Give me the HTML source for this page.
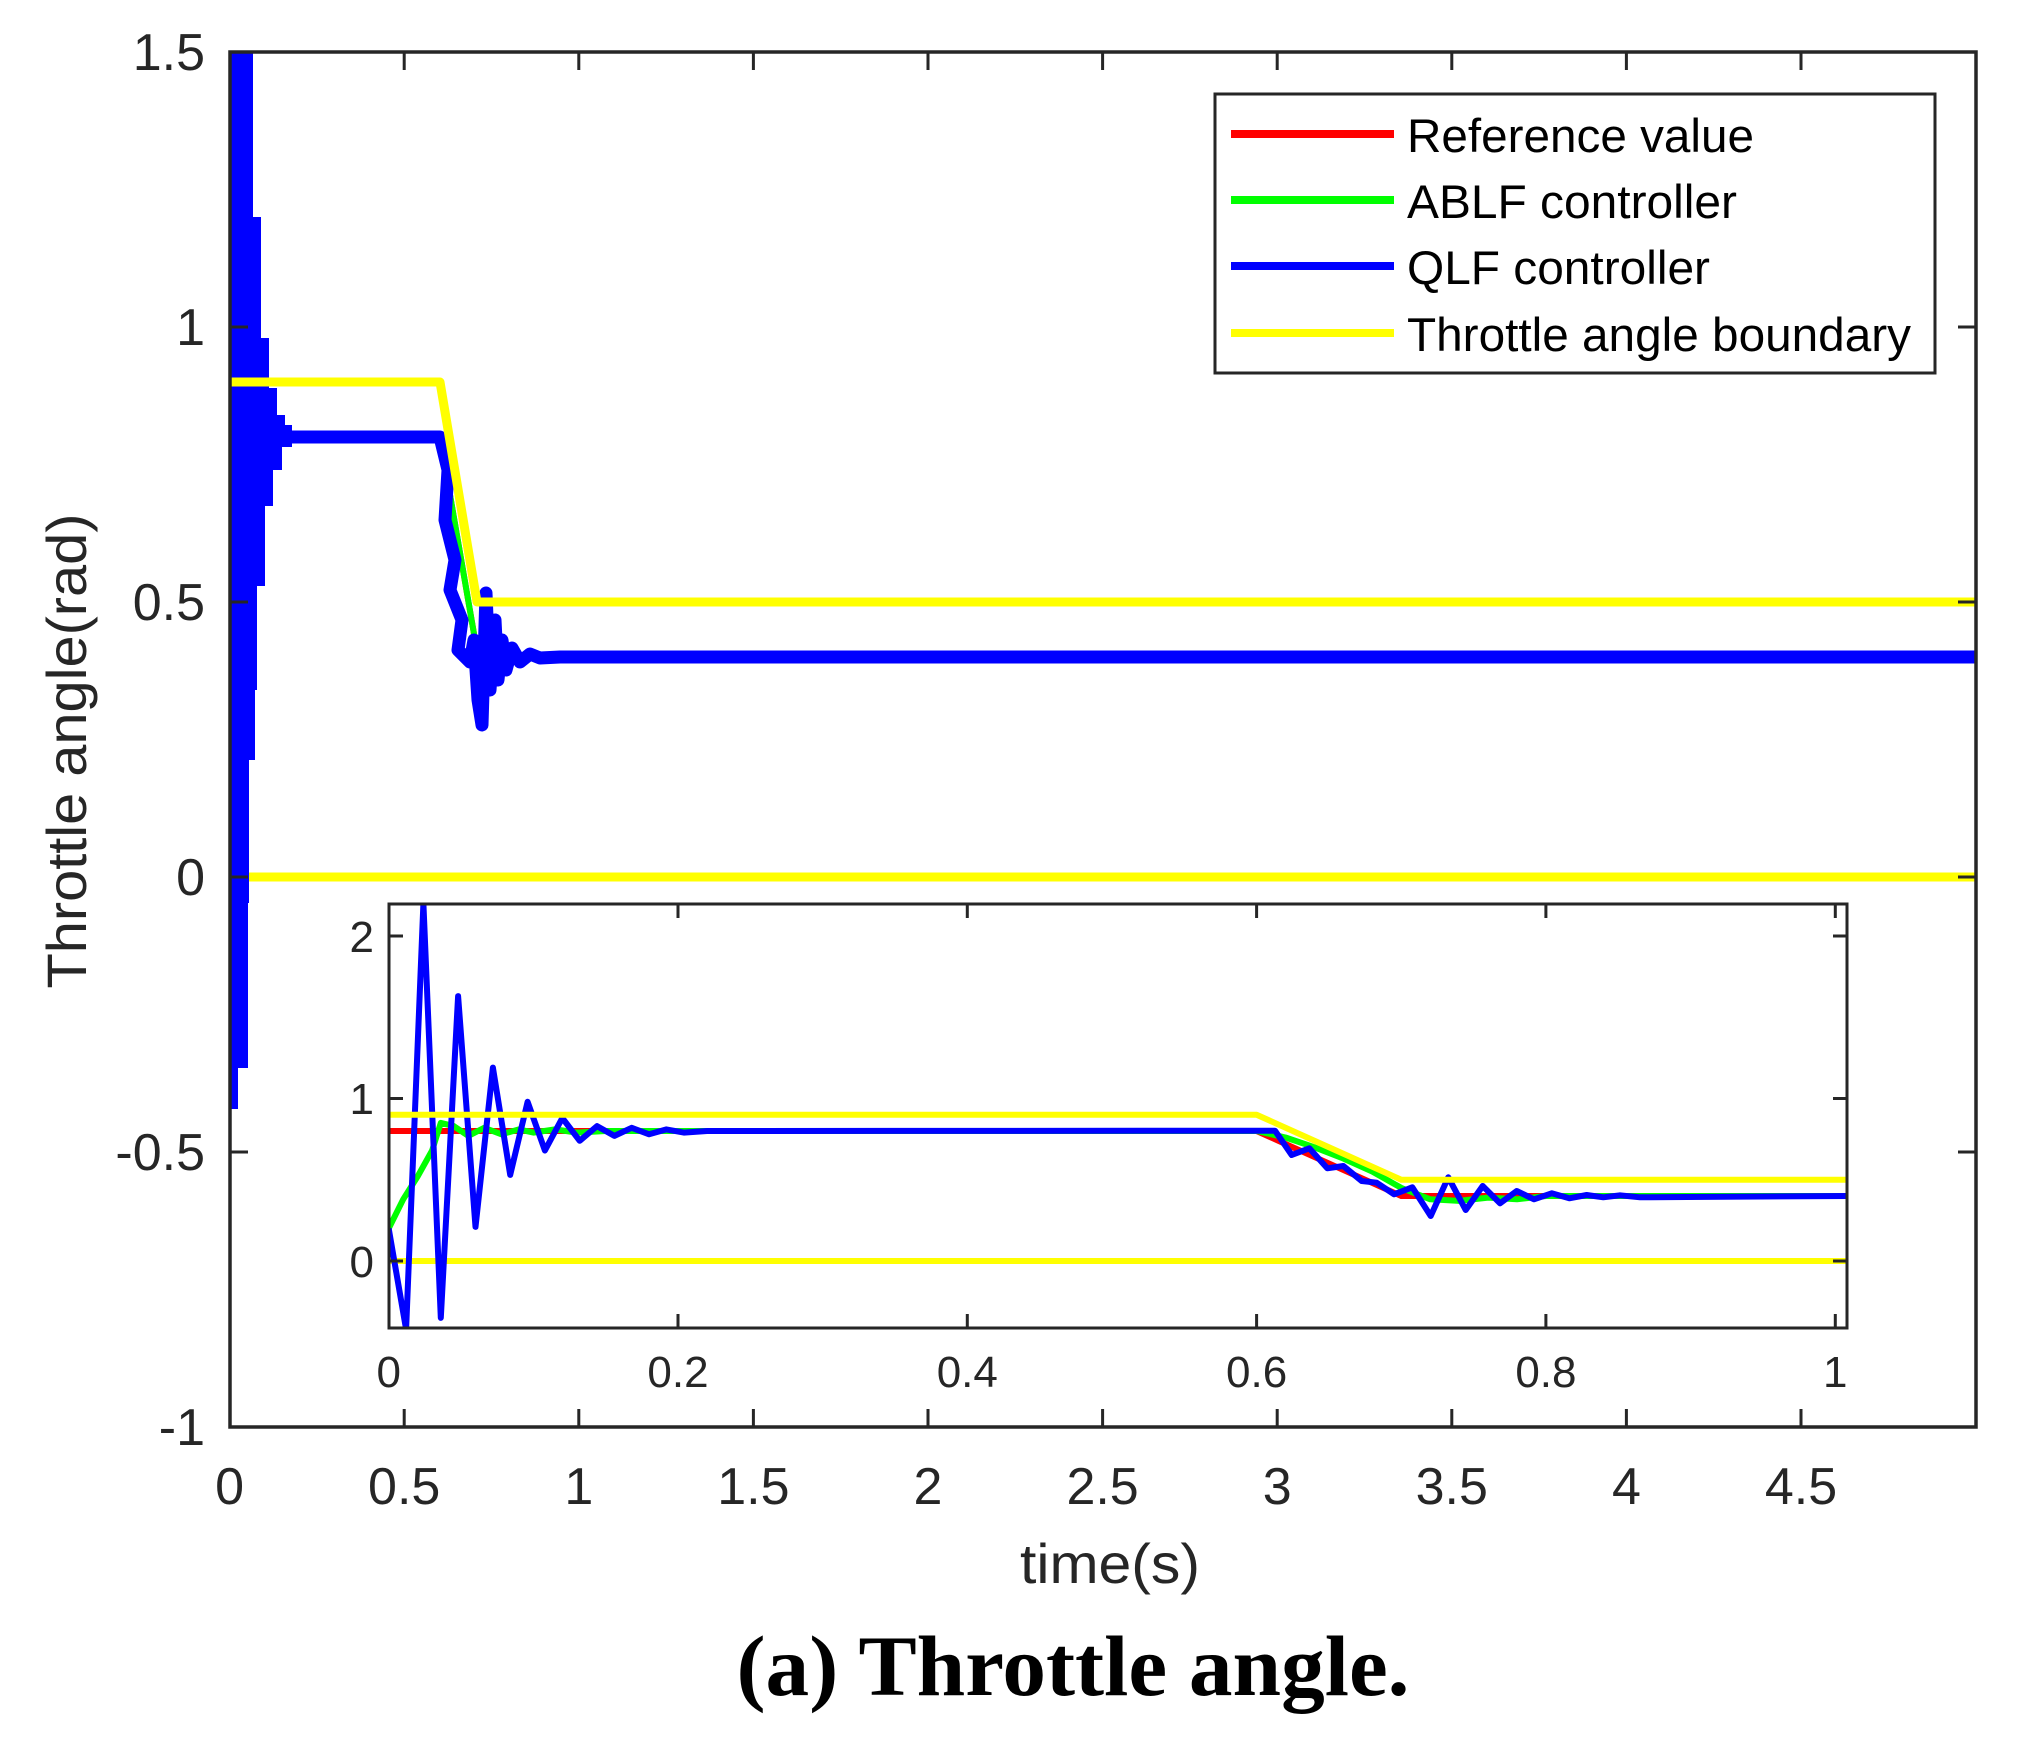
<!DOCTYPE html>
<html><head><meta charset="utf-8"><style>
html,body{margin:0;padding:0;background:#fff;}
svg{display:block;}
text{font-family:"Liberation Sans",Arial,sans-serif;fill:#262626;}
</style></head><body>
<svg width="2023" height="1760" viewBox="0 0 2023 1760" xmlns="http://www.w3.org/2000/svg">
<defs>
<clipPath id="cm"><rect x="230" y="52" width="1746" height="1375"/></clipPath>
<clipPath id="ci"><rect x="389" y="904" width="1458" height="424"/></clipPath>
</defs>
<g clip-path="url(#cm)" fill="none" stroke-linejoin="round">
<polyline points="230,877 1976,877" stroke="#ffff00" stroke-width="9"/>
<polyline points="230,437 440,437 478,657 1976,657" stroke="#ff0000" stroke-width="6"/>
<polyline points="230,767 240,437 440,437 478,657 1976,657" stroke="#00ff00" stroke-width="6"/>
<polygon fill="#0000ff" stroke="none" points="227,53 253,53 253,217 261,217 261,338 269,338 269,388 277,388 277,415 285,415 285,425 292,425 292,447 282,447 282,470 273,470 273,506 265,506 265,586 257,586 257,690 255,690 255,760 249,760 249,903 248,903 248,1068 238,1068 238,1109 227,1109"/>
<polyline points="285,437 440,437 448,470 445,520 455,560 450,590 462,620 458,650 470,662 474,640 478,700 482,725 486,593 490,690 495,620 498,680 502,640 506,670 512,648 520,662 530,654 540,658 560,657 1976,657" stroke="#0000ff" stroke-width="13"/>
<polyline points="230,382 440,382 477,602 1976,602" stroke="#ffff00" stroke-width="9"/>
</g>
<rect x="230" y="52" width="1746" height="1375" fill="none" stroke="#262626" stroke-width="3.5"/>
<g stroke="#262626" stroke-width="3">
<path d="M404.2,1427v-18M578.8,1427v-18M753.4,1427v-18M928,1427v-18M1102.6,1427v-18M1277.2,1427v-18M1451.8,1427v-18M1626.4,1427v-18M1801,1427v-18"/>
<path d="M404.2,52v18M578.8,52v18M753.4,52v18M928,52v18M1102.6,52v18M1277.2,52v18M1451.8,52v18M1626.4,52v18M1801,52v18"/>
<path d="M230,327h18M230,602h18M230,877h18M230,1152h18M1976,327h-18M1976,602h-18M1976,877h-18M1976,1152h-18"/>
</g>
<g font-size="52" text-anchor="end">
<text x="205" y="70">1.5</text>
<text x="205" y="345">1</text>
<text x="205" y="620">0.5</text>
<text x="205" y="895">0</text>
<text x="205" y="1170">-0.5</text>
<text x="205" y="1445">-1</text>
</g>
<g font-size="52" text-anchor="middle">
<text x="229.6" y="1504">0</text>
<text x="404.2" y="1504">0.5</text>
<text x="578.8" y="1504">1</text>
<text x="753.4" y="1504">1.5</text>
<text x="928" y="1504">2</text>
<text x="1102.6" y="1504">2.5</text>
<text x="1277.2" y="1504">3</text>
<text x="1451.8" y="1504">3.5</text>
<text x="1626.4" y="1504">4</text>
<text x="1801" y="1504">4.5</text>
<text x="1110" y="1583" font-size="56" textLength="180" lengthAdjust="spacingAndGlyphs">time(s)</text>
<text transform="translate(86,751) rotate(-90)" font-size="56" textLength="475" lengthAdjust="spacingAndGlyphs">Throttle angle(rad)</text>
</g>
<rect x="1215" y="94" width="720" height="279" fill="#fff" stroke="#262626" stroke-width="3"/>
<g stroke-width="8">
<line x1="1231" y1="134" x2="1394" y2="134" stroke="#ff0000"/>
<line x1="1231" y1="200" x2="1394" y2="200" stroke="#00ff00"/>
<line x1="1231" y1="266" x2="1394" y2="266" stroke="#0000ff"/>
<line x1="1231" y1="333" x2="1394" y2="333" stroke="#ffff00"/>
</g>
<g font-size="47">
<text x="1407" y="152" style="fill:#000" textLength="347" lengthAdjust="spacingAndGlyphs">Reference value</text>
<text x="1407" y="218" style="fill:#000" textLength="330" lengthAdjust="spacingAndGlyphs">ABLF controller</text>
<text x="1407" y="284" style="fill:#000" textLength="303" lengthAdjust="spacingAndGlyphs">QLF controller</text>
<text x="1407" y="351" style="fill:#000" textLength="504" lengthAdjust="spacingAndGlyphs">Throttle angle boundary</text>
</g>
<rect x="389" y="904" width="1458" height="424" fill="#fff"/>
<g clip-path="url(#ci)" fill="none" stroke-linejoin="round" stroke-width="6">
<polyline points="389,1261 1847,1261" stroke="#ffff00"/>
<polyline points="389,1131 1256.6,1131 1401.3,1196 1847,1196" stroke="#ff0000"/>
<polyline id="g1" points="" stroke="#00ff00"/>
<polyline id="b1" points="" stroke="#0000ff"/>
<polyline points="389,1114.75 1256.6,1114.75 1401.3,1179.75 1847,1179.75" stroke="#ffff00"/>
</g>
<rect x="389" y="904" width="1458" height="424" fill="none" stroke="#262626" stroke-width="3"/>
<g stroke="#262626" stroke-width="3">
<path d="M678.0,1328v-14M967.3,1328v-14M1256.6,1328v-14M1545.9,1328v-14M1835.3,1328v-14"/>
<path d="M678.0,904v14M967.3,904v14M1256.6,904v14M1545.9,904v14M1835.3,904v14"/>
<path d="M389,1261h14M389,1098.5h14M389,936h14M1847,1261h-14M1847,1098.5h-14M1847,936h-14"/>
</g>
<g font-size="44" text-anchor="end">
<text x="374" y="1277">0</text>
<text x="374" y="1114">1</text>
<text x="374" y="952">2</text>
</g>
<g font-size="44" text-anchor="middle">
<text x="388.7" y="1387">0</text>
<text x="678" y="1387">0.2</text>
<text x="967.3" y="1387">0.4</text>
<text x="1256.6" y="1387">0.6</text>
<text x="1545.9" y="1387">0.8</text>
<text x="1835.3" y="1387">1</text>
</g>
<text x="1073" y="1695" text-anchor="middle" font-size="86" font-weight="bold" textLength="673" lengthAdjust="spacingAndGlyphs" style="font-family:'Liberation Serif',serif;fill:#000">(a) Throttle angle.</text>
<script>
(function(){
function X(t){return 388.7+1446.6*t;}
function Y(v){return 1261-162.5*v;}
var b=[[0,0.2],[0.012,-0.42],[0.024,2.2],[0.036,-0.35],[0.048,1.63],[0.06,0.21],[0.072,1.19],[0.084,0.53],[0.096,0.98],[0.108,0.68],[0.12,0.88],[0.132,0.74],[0.144,0.83],[0.156,0.77],[0.168,0.82],[0.18,0.78],[0.192,0.81],[0.204,0.79],[0.22,0.8]];
var s=b.map(function(p){return X(p[0]).toFixed(1)+','+Y(p[1]).toFixed(1);});
s.push('1275,1130.7');
var r=[[1291.7,1155],[1309.3,1148.3],[1327.3,1168.3],[1343.3,1166],[1361.7,1181],[1376.7,1182.7],[1394,1194.3],[1412.3,1187.3],[1430.7,1216],[1448.3,1177.3],[1465.7,1210],[1482.7,1186],[1500,1203.3],[1516.7,1191],[1534,1199.3],[1551.7,1193.3],[1569.3,1198.3],[1586.7,1195],[1603.3,1197.3],[1620,1195.3],[1640,1197.3],[1847,1196]];
r.forEach(function(p){s.push(p[0]+','+p[1]);});
document.getElementById('b1').setAttribute('points',s.join(' '));
var g=[[0,0.2],[0.01,0.38],[0.02,0.52],[0.03,0.68],[0.036,0.85],[0.045,0.83],[0.055,0.77],[0.066,0.82],[0.078,0.78],[0.09,0.81],[0.1,0.79],[0.115,0.81],[0.13,0.79],[0.15,0.8],[0.6,0.8],[0.62,0.76],[0.64,0.7],[0.66,0.63],[0.68,0.55],[0.7,0.45],[0.72,0.38],[0.74,0.37],[0.76,0.39],[0.78,0.38],[0.8,0.4],[1.01,0.4]];
document.getElementById('g1').setAttribute('points',g.map(function(p){return X(p[0]).toFixed(1)+','+Y(p[1]).toFixed(1);}).join(' '));
})();
</script>
</svg>
</body></html>
